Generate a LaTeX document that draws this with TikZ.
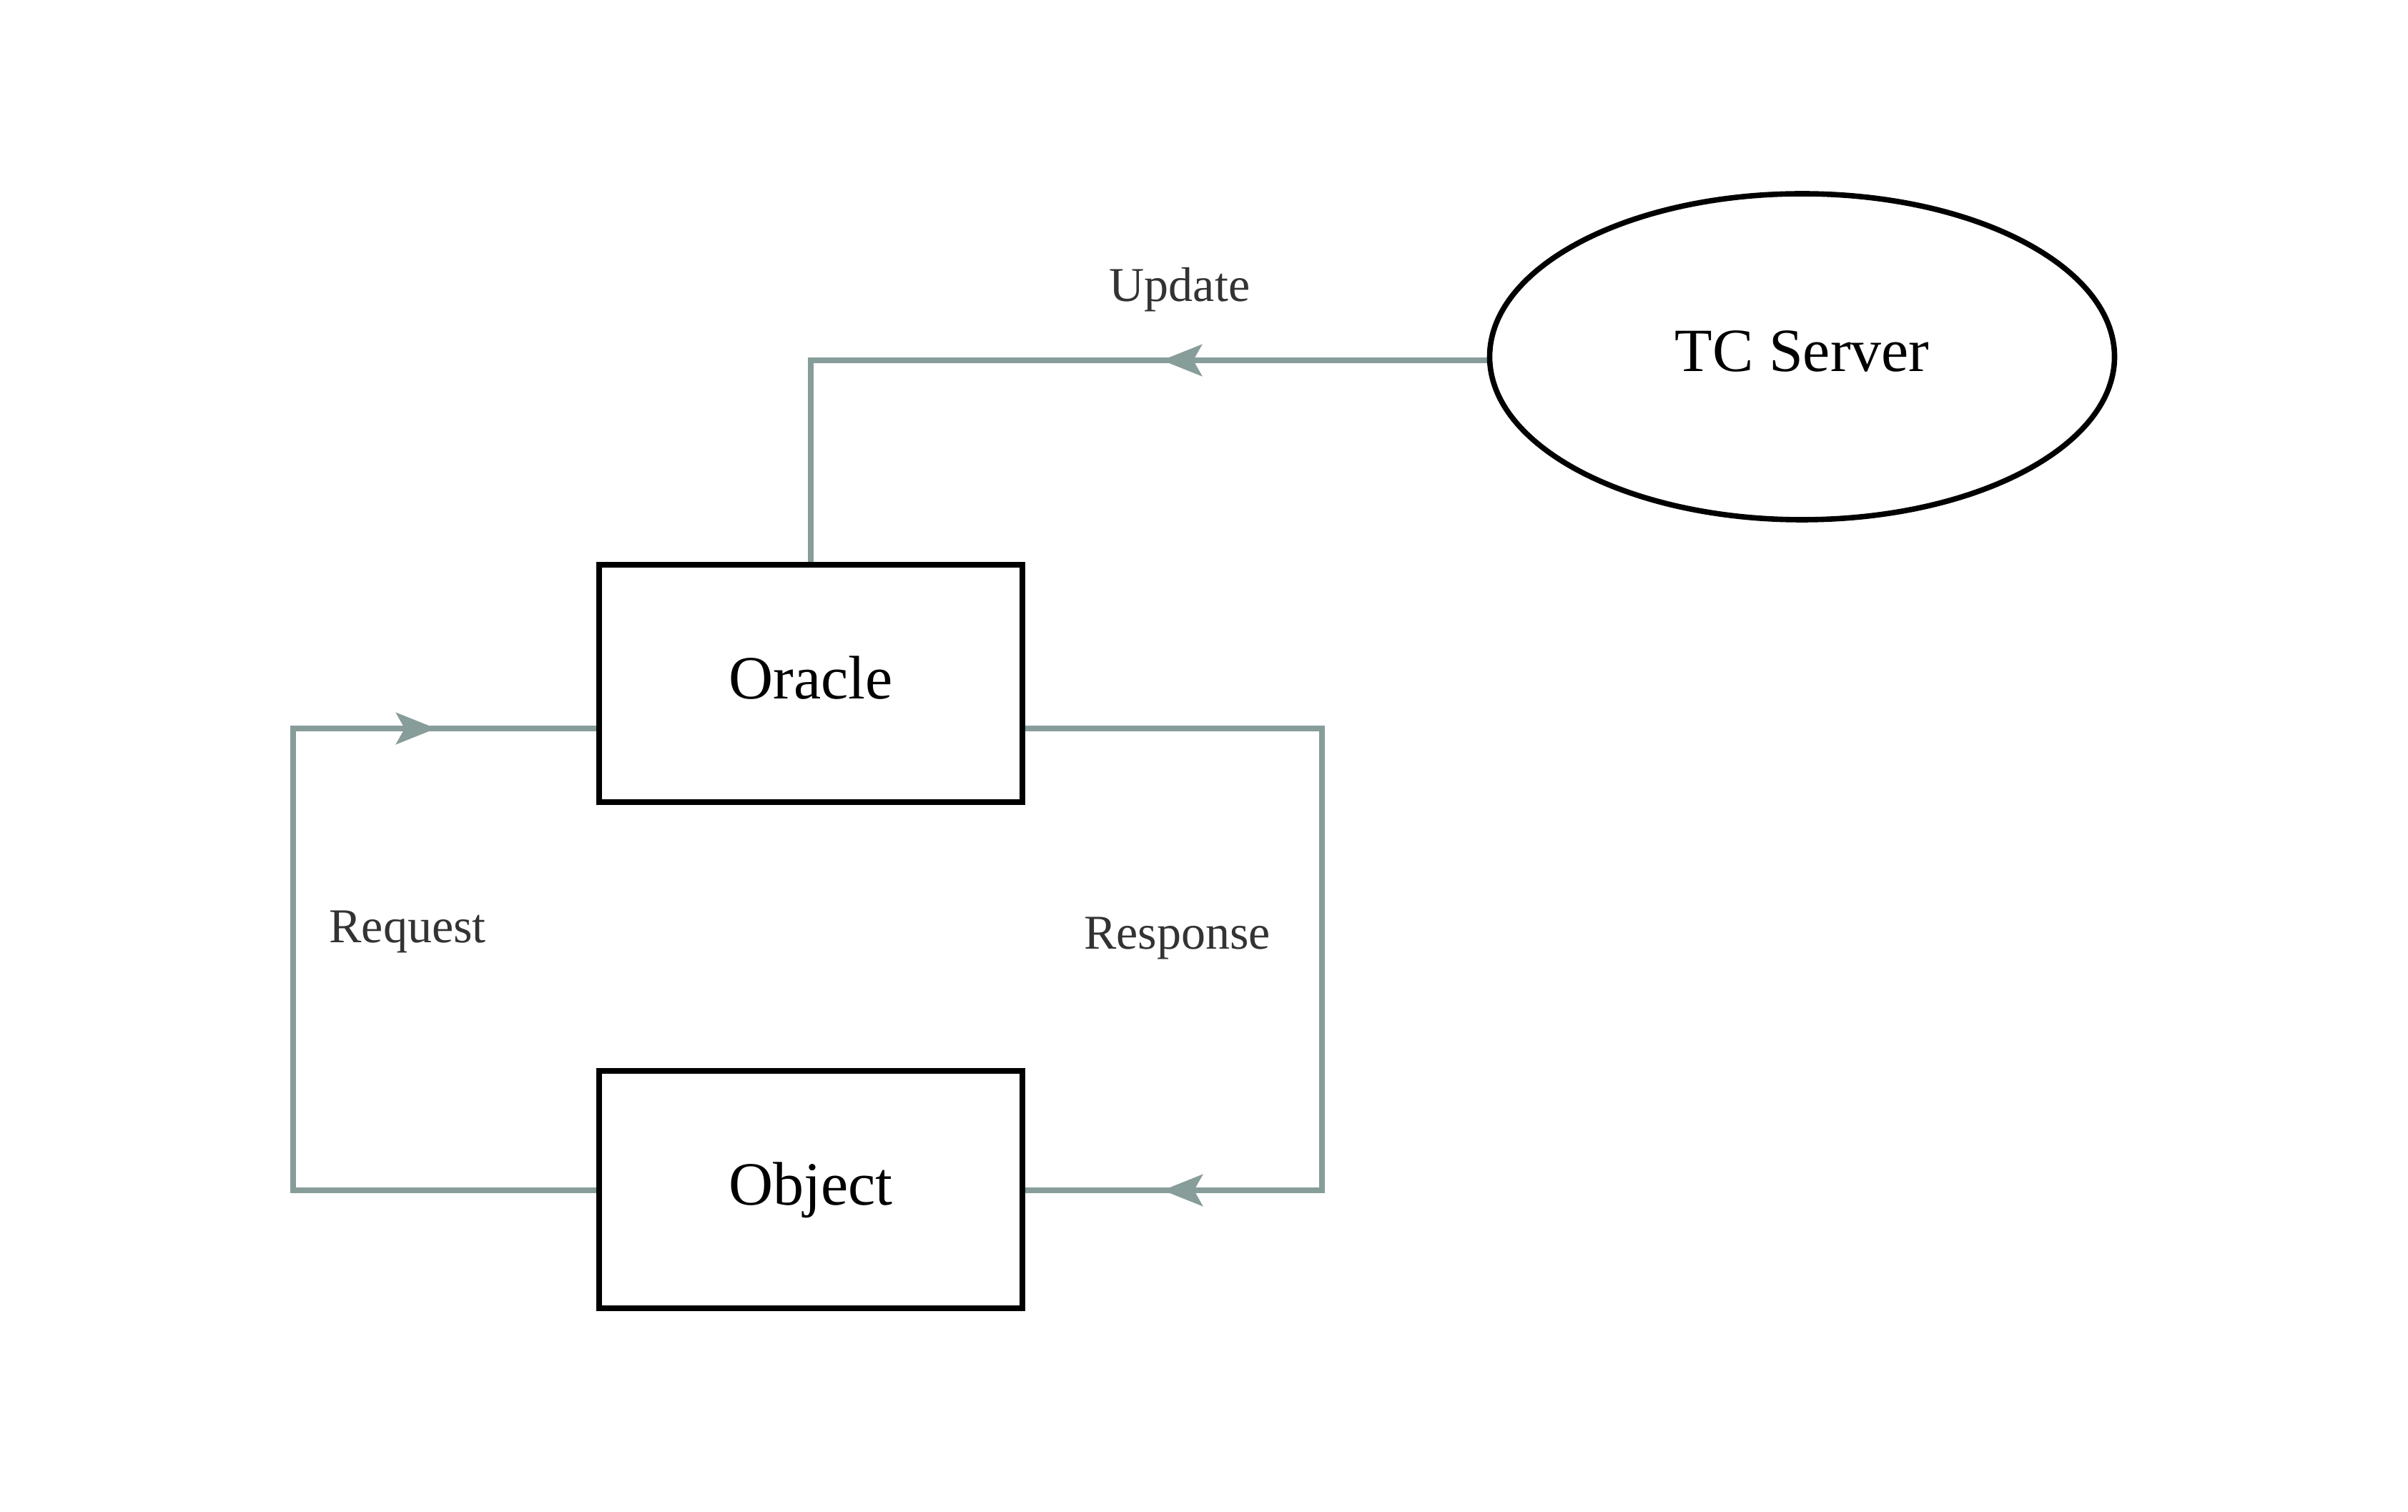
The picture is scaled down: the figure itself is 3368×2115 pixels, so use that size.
\documentclass[tikz,border=0pt]{standalone}
\usepackage{fontspec}
\setmainfont{Liberation Serif}
\usetikzlibrary{arrows.meta,shapes.geometric,backgrounds}
\definecolor{conn}{RGB}{135,157,153}
\definecolor{lbl}{RGB}{51,51,51}
\begin{document}
\begin{tikzpicture}[x=0.25pt,y=-0.25pt,
  box/.style={draw=black,line width=2pt,rectangle,minimum width=148pt,minimum height=83pt,inner sep=0pt,
    font=\fontsize{21.5}{25}\selectfont,text height=10.75pt,text depth=0pt},
  oval/.style={draw=black,line width=1.9pt,ellipse,minimum width=218.5pt,minimum height=114pt,inner sep=0pt,
    font=\fontsize{21.5}{25}\selectfont,text height=10.5pt,text depth=0pt},
  link/.style={draw=conn,line width=2pt},
  tipline/.style={link,-{Stealth[length=14pt,width=11pt,inset=3pt]}},
  lab/.style={anchor=base,text=lbl,font=\fontsize{17}{20}\selectfont,inner sep=0pt}]
\useasboundingbox (0,0) rectangle (3368,2115);
\node[box] (oracle) at (1134,956) {Oracle};
\node[box] (object) at (1134,1663.5) {Object};
\node[oval] (server) at (2520.5,499) {TC Server};
\coordinate (updcorner) at (1134,504);
\coordinate (updtip) at (1625,504);
\coordinate (reqtop) at (410,1019);
\coordinate (reqbot) at (410,1665);
\coordinate (reqtip) at (610,1019);
\coordinate (restop) at (1849,1019);
\coordinate (resbot) at (1849,1665);
\coordinate (restip) at (1626,1665);
\begin{scope}[on background layer]
\draw[link] (server.west |- updcorner) -- (updcorner) -- (oracle.north);
\draw[tipline] (server.west |- updcorner) -- (updtip);
\draw[link] (object.west |- reqbot) -- (reqbot) -- (reqtop) -- (oracle.west |- reqtop);
\draw[tipline] (reqtop) -- (reqtip);
\draw[link] (oracle.east |- restop) -- (restop) -- (resbot) -- (object.east |- resbot);
\draw[tipline] (resbot) -- (restip);
\end{scope}
\node[lab] (updlab) at (1650,422) {Update};
\node[lab] (reqlab) at (570,1318) {Request};
\node[lab] (reslab) at (1646.5,1327) {Response};
\end{tikzpicture}
\end{document}
